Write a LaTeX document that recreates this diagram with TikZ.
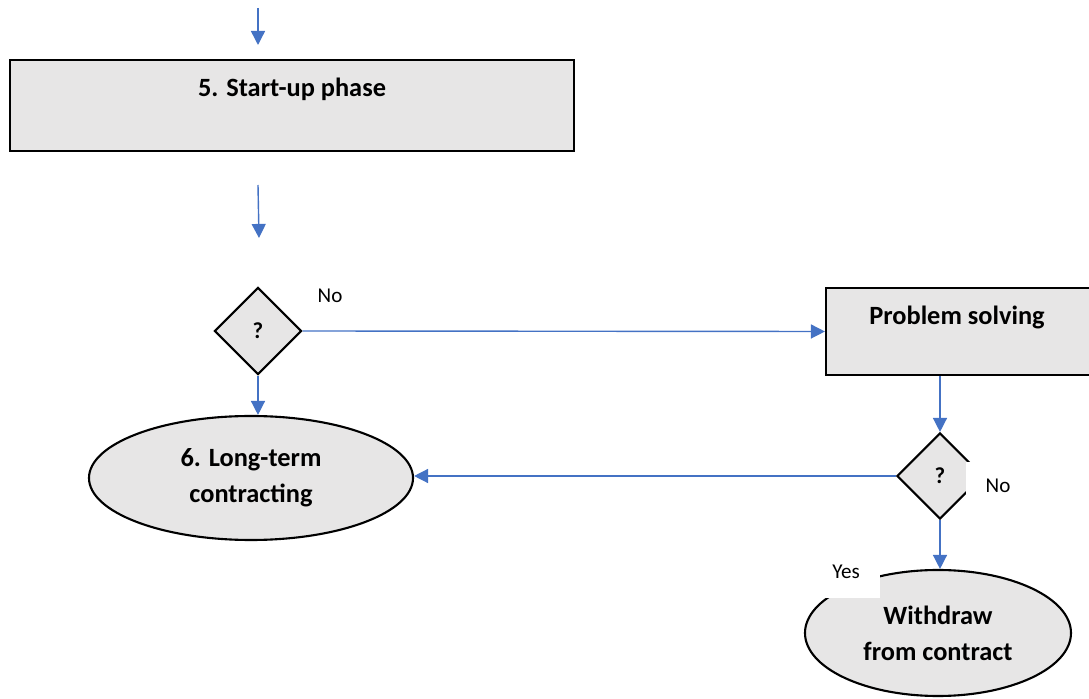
\documentclass[tikz,border=0pt]{standalone}
\usepackage{fontspec}
\setmainfont{Carlito}
\usetikzlibrary{shapes.geometric,arrows.meta,positioning,calc}

\definecolor{boxgray}{HTML}{E7E6E6}
\definecolor{flowblue}{HTML}{4472C4}

\tikzset{
  phase/.style={draw=black, line width=1.2pt, fill=boxgray, rectangle, inner sep=0pt},
  goal/.style={draw=black, line width=1.2pt, fill=boxgray, ellipse, inner sep=0pt,
    align=center, font=\bfseries\fontsize{15}{20.5}\selectfont},
  check/.style={draw=black, line width=1.2pt, fill=boxgray, diamond, aspect=1,
    inner sep=0pt, font=\bfseries\fontsize{13}{15}\selectfont},
  phasetext/.style={font=\bfseries\fontsize{15}{18}\selectfont},
  answer/.style={font=\fontsize{12}{14}\selectfont, inner sep=0pt},
  patch/.style={fill=white, inner sep=0pt},
  flow/.style={draw=flowblue, line width=0.8pt, -{Triangle[width=8pt,length=8pt]}}
}

\begin{document}
\begin{tikzpicture}
      \useasboundingbox (0,0) rectangle (21.78,-13.98);
      % Define nodes
      \node[phase, minimum width=11.28cm, minimum height=1.82cm] (start) at (5.84,-2.11) {};
      \node[phasetext] (starttext) at (5.84,-1.78) {5. Start-up phase};
      \coordinate (in) at (5.16,-0.16);
      \coordinate (inend) at (5.16,-0.9);
      \coordinate (out) at (5.16,-3.7);
      \coordinate (outend) at (5.18,-4.76);
      \node[check, minimum size=1.74cm] (q1) at (5.16,-6.62) {?};
      \node[answer] (no1) at (6.6,-5.92) {No};
      \node[phase, minimum width=5.48cm, minimum height=1.74cm] (problem) at (19.26,-6.63) {};
      \node[phasetext] (problemtext) at (19.14,-6.34) {Problem solving};
      \node[goal, minimum width=6.48cm, minimum height=2.48cm] (long) at (5.02,-9.56) {6. Long-term\\contracting};
      \node[check, minimum size=1.72cm] (q2) at (18.8,-9.52) {?};
      \node[goal, minimum width=5.32cm, minimum height=2.52cm] (withdraw) at (18.76,-12.66) {Withdraw\\from contract};
      \node[patch, minimum width=1.4cm, minimum height=0.68cm] (nopatch) at (20.02,-9.59) {};
      \node[answer] (no2) at (19.96,-9.72) {No};
      \node[patch, minimum width=1.4cm, minimum height=0.84cm] (yespatch) at (16.9,-11.54) {};
      \node[answer] (yes2) at (16.92,-11.44) {Yes};
      % Connect nodes
      \draw[flow] (in) -- (inend);
      \draw[flow] (out) -- (outend);
      \draw[flow] (q1.south) -- (q1.south |- long.north);
      \draw[flow] (q1.east) -- (problem.west);
      \draw[flow] (q2.north |- problem.south) -- (q2.north);
      \draw[flow] (q2.west) -- (long.east |- q2.west);
      \draw[flow] (q2.south) -- (q2.south |- withdraw.north);
    \end{tikzpicture}
\end{document}
